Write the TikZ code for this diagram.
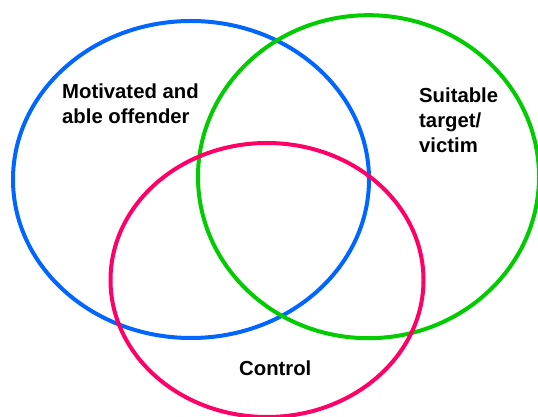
\documentclass[tikz,border=0pt]{standalone}
\usepackage{fontspec}
\setmainfont{Liberation Sans}
\definecolor{ringblue}{HTML}{0066FF}
\definecolor{ringgreen}{HTML}{00CC00}
\definecolor{ringpink}{HTML}{FF0066}
\tikzset{
  ring/.style={line width=4pt},
  tag/.style={inner sep=0pt, anchor=base west, align=left,
    font=\fontsize{20.3}{25}\selectfont\bfseries}
}
\begin{document}
\begin{tikzpicture}[x=1pt, y=1pt]
    \useasboundingbox (0,0) rectangle (538,417);

    % Define centres
    \coordinate (offender) at (191,237.5);
    \coordinate (target) at (368.5,240.3);
    \coordinate (control) at (267,137);

    % Draw rings
    \draw[ring, ringblue] (offender) ellipse [x radius=178, y radius=158.5];
    \draw[ring, ringgreen] (target) ellipse [x radius=170.5, y radius=161.5];
    \draw[ring, ringpink] (control) ellipse [x radius=156.5, y radius=137];

    % Label rings
    \node[tag] (offtxt) at (62,293) {Motivated and\\able offender};
    \node[tag] (tgttxt) at (419,264) {Suitable\\target/\\victim};
    \node[tag] (ctltxt) at (239,41) {Control};
\end{tikzpicture}
\end{document}
